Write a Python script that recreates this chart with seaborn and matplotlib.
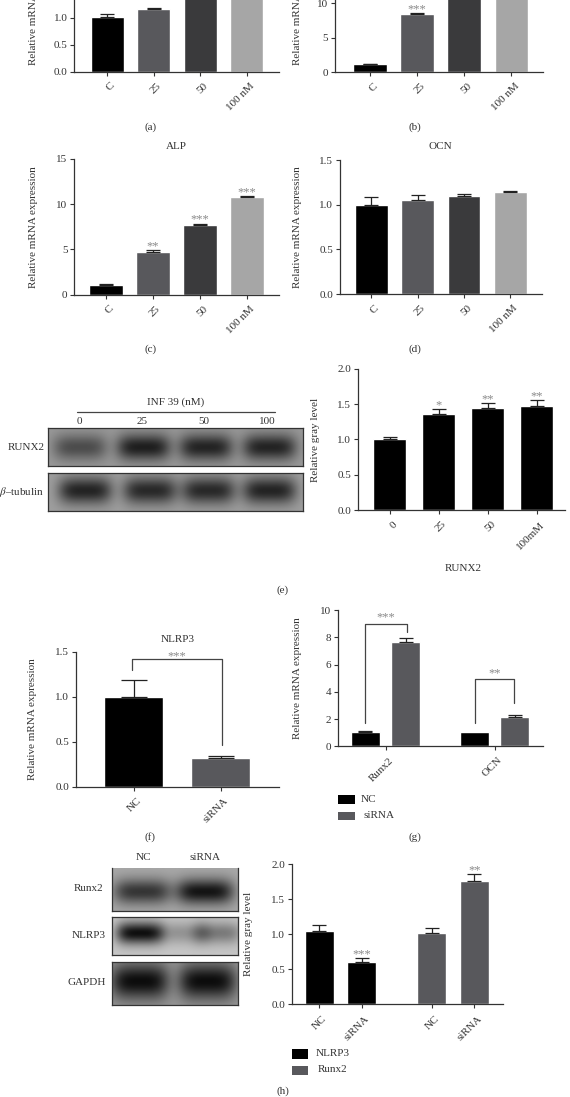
import numpy as np
import pandas as pd
import matplotlib
matplotlib.use("Agg")
import matplotlib.pyplot as plt
from matplotlib.patches import Rectangle
from matplotlib.lines import Line2D
from matplotlib.transforms import ScaledTranslation
import seaborn as sns

sns.set_style("ticks")
plt.rcParams['font.family'] = ['Liberation Serif', 'DejaVu Sans']
plt.rcParams['mathtext.fontset'] = 'stix'
plt.rcParams['text.color'] = '#333333'
plt.rcParams['axes.labelcolor'] = '#333333'
plt.rcParams['xtick.labelcolor'] = '#333333'
plt.rcParams['ytick.labelcolor'] = '#333333'

W, H = 570, 1097
BLACK, DGRAY, CHAR, LGRAY = '#000000', '#58585c', '#3a3a3c', '#a6a6a6'
DOSE_COLORS = [BLACK, DGRAY, CHAR, LGRAY]

dose_labels = ['C', '25', '50', '100 nM']
a_vals, a_errs = [1.02, 1.16, 1.9, 2.0], [0.04, 0.02, 0.05, 0.05]
b_vals, b_errs = [1.1, 8.5, 13.0, 15.0], [0.05, 0.15, 0.2, 0.2]
b_stars = ['', '***', '', '']
c_vals, c_errs = [1.05, 4.7, 7.75, 10.75], [0.08, 0.2, 0.12, 0.15]
c_stars = ['', '**', '***', '***']
d_vals, d_errs = [1.0, 1.05, 1.1, 1.14], [0.09, 0.06, 0.02, 0.01]
e_labels = ['0', '25', '50', '100mM']
e_vals, e_errs = [1.0, 1.36, 1.44, 1.47], [0.04, 0.07, 0.08, 0.09]
e_stars = ['', '*', '**', '**']
f_labels = ['NC', 'siRNA']
f_vals, f_errs = [1.0, 0.32], [0.19, 0.02]
g_genes = ['Runx2', 'Runx2', 'OCN', 'OCN']
g_treat = ['NC', 'siRNA', 'NC', 'siRNA']
g_vals, g_errs = [1.05, 7.65, 1.05, 2.15], [0.1, 0.28, 0.0, 0.18]
h_labels = ['NC', 'siRNA', 'NC', 'siRNA']
h_pos = [0, 1, 2.64, 3.64]
h_prot = ['NLRP3', 'NLRP3', 'Runx2', 'Runx2']
h_vals, h_errs = [1.05, 0.61, 1.01, 1.757], [0.075, 0.047, 0.078, 0.1]
h_stars = ['', '***', '', '**']


def ftext(x, y, s, ha='center', size=8, **kw):
    fig.text(x / W, 1 - y / H, s, ha=ha, va='center', fontsize=size, **kw)


def frect(x0, x1, y0, y1, color):
    fig.add_artist(Rectangle((x0 / W, 1 - y1 / H), (x1 - x0) / W, (y1 - y0) / H,
                             transform=fig.transFigure, color=color, lw=0))


def make_axes(left, right, top, y0):
    return fig.add_axes([left / W, 1 - y0 / H, (right - left) / W, (y0 - top) / H])


def finish(ax, left, right, c0, sp, ymax, yticks, ylabel, label_x, xtickpos, xlabels,
           vals, errs, stars=None, capw=14.5, star_size=9):
    ax.set_xlim((left - c0) / sp, (right - c0) / sp)
    ax.set_ylim(0, ymax)
    ax.set_yticks(yticks)
    fmt = '{:.1f}' if ymax <= 2.5 else '{:d}'
    ax.set_yticklabels([fmt.format(t) for t in yticks], fontsize=8)
    ax.set_xticks(xtickpos)
    ax.set_xticklabels(xlabels, fontsize=8, rotation=45, ha='right', va='top',
                       rotation_mode='anchor')
    ax.tick_params(axis='both', length=2.8, width=0.8, color='#333333', pad=2)
    ax.tick_params(axis='x', pad=4)
    shift = ScaledTranslation(3 / 100, 0, fig.dpi_scale_trans)
    for lab in ax.get_xticklabels():
        lab.set_transform(lab.get_transform() + shift)
    ax.set_xlabel('')
    ax.set_ylabel(ylabel, fontsize=8, labelpad=0)
    ax.yaxis.set_label_coords((label_x + 5 - left) / (right - left), 0.5)
    sns.despine(ax=ax)
    for s in ('left', 'bottom'):
        ax.spines[s].set_linewidth(0.9)
        ax.spines[s].set_color('#333333')
    bars = sorted([b for c in ax.containers for b in c], key=lambda b: b.get_x())
    for i, b in enumerate(bars):
        cx = b.get_x() + b.get_width() / 2
        v, e = vals[i], errs[i]
        if e > 0:
            ax.errorbar([cx], [v], yerr=[[0], [e]], color='#222222', lw=0.9,
                        capsize=capw * 0.36, capthick=0.9, clip_on=True)
        if stars and stars[i]:
            ax.annotate(stars[i], (cx, v + e), xytext=(0, 0.5), textcoords='offset points',
                        ha='center', va='baseline', fontsize=star_size, color='#8a8a8a')


def dose_panel(left, right, top, y0, c0, sp, width, ymax, yticks, labels, vals, errs,
               stars, ylabel, label_x, colors=DOSE_COLORS):
    ax = make_axes(left, right, top, y0)
    df = pd.DataFrame({'c': labels, 'v': vals})
    sns.barplot(df, x='c', y='v', hue='c', palette=colors, dodge=False, legend=False,
                width=width / sp, saturation=1, ax=ax)
    finish(ax, left, right, c0, sp, ymax, yticks, ylabel, label_x,
           list(range(len(labels))), labels, vals, errs, stars)
    return ax


def bracket(ax, x0, x1, y_left, y_top, y_right):
    ax.plot([x0, x0, x1, x1], [y_left, y_top, y_top, y_right], color='#444444', lw=0.9,
            clip_on=False)


def blot(x0, x1, y0, y1, bg, centers, amps, sx, cy, sy, frame=True, top=True):
    ax = fig.add_axes([x0 / W, 1 - y1 / H, (x1 - x0) / W, (y1 - y0) / H])
    nx, ny = int(x1 - x0), int(y1 - y0)
    xx, yy = np.meshgrid(np.linspace(0, 1, nx), np.linspace(0, 1, ny))
    im = np.full(xx.shape, bg, dtype=float)
    for c, a in zip(centers, amps):
        im -= a * np.exp(-np.abs((xx - c) / sx) ** 4 - ((yy - cy) / sy) ** 2)
    ax.imshow(np.clip(im, 0, 1), cmap='gray', vmin=0, vmax=1, aspect='auto',
              interpolation='bilinear')
    ax.set_xticks([])
    ax.set_yticks([])
    for s in ax.spines.values():
        s.set_linewidth(0.9)
        s.set_color('#333333')
    if not top:
        ax.spines['top'].set_visible(False)


fig = plt.figure(figsize=(W / 100, H / 100), dpi=100)
YL = 'Relative mRNA expression'

# (a) (b): tops are cut off by the figure edge
dose_panel(74.2, 279, -63.3, 71.7, 107.3, 46.5, 32.7, 2.5, [0.0, 0.5, 1.0],
           dose_labels, a_vals, a_errs, None, YL, 32.7)
dose_panel(334.5, 543, -63, 72, 369.8, 47.2, 33.5, 19.65, [0, 5, 10],
           dose_labels, b_vals, b_errs, b_stars, YL, 297.5)
# (c) (d)
dose_panel(74.2, 279, 159, 294.7, 105.8, 47, 33.5, 15, [0, 5, 10, 15],
           dose_labels, c_vals, c_errs, c_stars, YL, 32.7)
dose_panel(340, 541.8, 160, 294, 371.3, 46.3, 32.7, 1.5, [0.0, 0.5, 1.0, 1.5],
           dose_labels, d_vals, d_errs, None, YL, 297.5)
ftext(176.4, 146.7, 'ALP')
ftext(440.7, 146.7, 'OCN')
ftext(151, 127, '(a)')
ftext(415, 127, '(b)')
ftext(151, 349, '(c)')
ftext(414.5, 349, '(d)')

# (e)
dose_panel(358, 565, 368.7, 510.3, 389.8, 49, 32.7, 2.0, [0.0, 0.5, 1.0, 1.5, 2.0],
           e_labels, e_vals, e_errs, e_stars, 'Relative gray level', 314.5,
           colors=[BLACK] * 4)
ftext(463.6, 568.7, 'RUNX2')
ftext(283, 590, '(e)')
blot(48.4, 303, 427.7, 466, 0.60, [0.125, 0.375, 0.62, 0.87], [0.30, 0.48, 0.46, 0.46],
     0.105, 0.52, 0.34)
blot(48.4, 303, 473.3, 510.7, 0.62, [0.145, 0.40, 0.63, 0.87], [0.48, 0.46, 0.46, 0.48],
     0.105, 0.46, 0.36)
fig.add_artist(Line2D([77 / W, 274.5 / W], [1 - 411.7 / H] * 2, color='#444444', lw=0.9,
                      transform=fig.transFigure))
ftext(175.6, 401.7, 'INF 39 (nM)')
for x, s in zip([79, 142, 204, 267], ['0', '25', '50', '100']):
    ftext(x, 421, s)
ftext(44.4, 447, 'RUNX2', ha='right')
ftext(44.4, 491.7, r'$\beta$–tubulin', ha='right')

# (f)
left, right = 75.6, 279
ax = make_axes(left, right, 651.7, 787)
df = pd.DataFrame({'c': f_labels, 'v': f_vals})
sns.barplot(df, x='c', y='v', hue='c', palette=[BLACK, DGRAY], dodge=False, legend=False,
            width=0.68, saturation=1, ax=ax)
finish(ax, left, right, 133.5, 87.3, 1.5, [0.0, 0.5, 1.0, 1.5], YL, 32, [0, 1], f_labels,
       f_vals, f_errs, capw=27)
bracket(ax, -0.02, 1.01, 1.297, 1.416, 0.466)
ax.text(0.5, 1.445, '***', ha='center', va='center', fontsize=9, color='#8a8a8a')
ftext(177.5, 639.3, 'NLRP3')
ftext(150, 836.7, '(f)')

# (g)
left, right = 338, 543
ax = make_axes(left, right, 610, 746.3)
df = pd.DataFrame({'gene': g_genes, 'treat': g_treat, 'v': g_vals})
sns.barplot(df, x='gene', y='v', hue='treat', palette=[BLACK, DGRAY], legend=False,
            width=0.745, gap=0.286, saturation=1, ax=ax)
finish(ax, left, right, 385.5, 109, 10, [0, 2, 4, 6, 8, 10], YL, 297.5, [0, 1],
       ['Runx2', 'OCN'], g_vals, g_errs)
bracket(ax, -0.187, 0.2, 1.7, 9.0, 8.35)
bracket(ax, 0.817, 1.183, 1.73, 4.96, 3.15)
ax.text(0.005, 9.45, '***', ha='center', va='center', fontsize=9, color='#8a8a8a')
ax.text(1.0, 5.35, '**', ha='center', va='center', fontsize=9, color='#8a8a8a')
frect(338, 354.5, 795, 804.3, BLACK)
frect(338, 354.5, 811.7, 820.3, DGRAY)
ftext(361, 799.3, 'NC', ha='left')
ftext(363.6, 815.3, 'siRNA', ha='left')
ftext(414.5, 836.7, '(g)')

# (h)
left, right = 291.6, 502.5
ax = make_axes(left, right, 864, 1004.3)
df = pd.DataFrame({'pos': h_pos, 'prot': h_prot, 'v': h_vals})
sns.barplot(df, x='pos', y='v', hue='prot', palette=[BLACK, DGRAY], dodge=False,
            legend=False, native_scale=True, width=0.69, saturation=1, ax=ax)
finish(ax, left, right, 319.2, 42.6, 2.0, [0.0, 0.5, 1.0, 1.5, 2.0], 'Relative gray level',
       248.4, h_pos, h_labels, h_vals, h_errs, h_stars)
frect(291.6, 308, 1049.3, 1059, BLACK)
frect(291.6, 308, 1065.7, 1075.3, DGRAY)
ftext(315.3, 1053.7, 'NLRP3', ha='left')
ftext(317.5, 1069.7, 'Runx2', ha='left')
ftext(283, 1091, '(h)')
blot(112.4, 237.8, 868.3, 910.7, 0.66, [0.24, 0.74], [0.45, 0.58], 0.23, 0.55, 0.3, top=False)
blot(112.4, 237.8, 917.3, 955.3, 0.78, [0.22, 0.58, 0.84], [0.72, 0.2, 0.3], 0.19, 0.42, 0.3)
blot(112.4, 237.8, 962.3, 1005.3, 0.60, [0.22, 0.76], [0.55, 0.55], 0.23, 0.45, 0.42)
ftext(143.6, 857.7, 'NC')
ftext(205.5, 857.7, 'siRNA')
ftext(103, 888.3, 'Runx2', ha='right')
ftext(105.5, 935.7, 'NLRP3', ha='right')
ftext(105.5, 982.3, 'GAPDH', ha='right')

fig.savefig('out.png', dpi=100)
